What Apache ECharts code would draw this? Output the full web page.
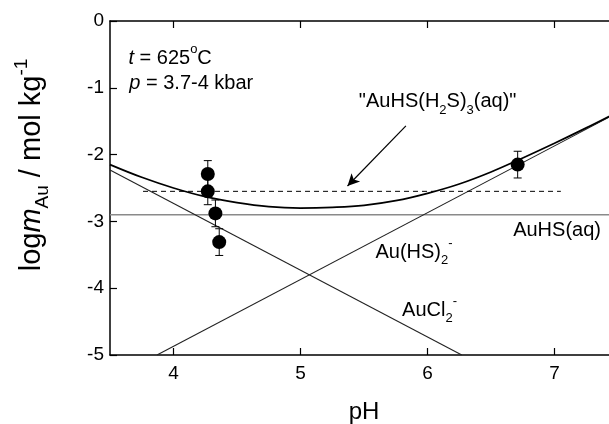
<!DOCTYPE html>
<html>
<head>
<meta charset="utf-8">
<script src="https://cdn.jsdelivr.net/npm/echarts@6/dist/echarts.min.js"></script>
<style>html,body{margin:0;padding:0;background:#fff}#c{width:609px;height:424px}</style>
</head>
<body>
<div id="c"></div>
<script>
// ---- data ----
var xTicks = [4, 5, 6, 7];
var curvePH = [3.5, 3.75, 4.0, 4.25, 4.5, 4.75, 5.0, 5.25, 5.5, 5.75, 6.0, 6.25, 6.5, 6.75, 7.0, 7.25, 7.5];
var curveLogM = [-2.15, -2.34, -2.50, -2.63, -2.72, -2.78, -2.80, -2.79, -2.76, -2.69, -2.58, -2.44, -2.26, -2.05, -1.83, -1.60, -1.36];
var auclPH = [3.5, 6.27];
var auclLogM = [-2.23, -5.0];
var auhs2PH = [3.87, 7.5];
var auhs2LogM = [-5.0, -1.37];
var auhsPH = [3.5, 7.5];
var auhsLogM = [-2.9, -2.9];
var dashPH = [3.76, 7.05];
var dashLogM = [-2.55, -2.55];
var ptPH = [4.27, 4.27, 4.33, 4.36, 6.71];
var ptLogM = [-2.29, -2.55, -2.88, -3.31, -2.15];
var ptErr = [0.2, 0.2, 0.2, 0.2, 0.2];

function pairs(xs, ys) { return xs.map(function (x, i) { return [x, ys[i]]; }); }

var FF = 'Liberation Sans, Arial, sans-serif';
var FS = 20;
var rich = {
  n: {fontSize: FS, lineHeight: 30, verticalAlign: 'middle', fontFamily: FF, color: '#000'},
  i: {fontSize: FS, lineHeight: 30, verticalAlign: 'middle', fontStyle: 'italic', fontFamily: FF, color: '#000'},
  sub: {fontSize: 13, lineHeight: 12, verticalAlign: 'bottom', fontFamily: FF, color: '#000'},
  sup: {fontSize: 13, lineHeight: 12, verticalAlign: 'top', fontFamily: FF, color: '#000'}
};

function textSeries(pt, fmt, align) {
  return {
    type: 'scatter', data: [pt], symbolSize: 0, silent: true, z: 5,
    itemStyle: {opacity: 1},
    label: {show: true, position: 'inside', align: align || 'left', verticalAlign: 'middle', formatter: fmt,
      color: '#000', textBorderWidth: 0, rich: rich}
  };
}

var chart = echarts.init(document.getElementById('c'), null, {renderer: 'canvas'});
var axisLineStyle = {color: '#000', width: 1.5};
chart.setOption({
  animation: false,
  backgroundColor: '#fff',
  grid: {left: 110, top: 21, right: -9, bottom: 69, containLabel: false, outerBoundsMode: 'none'},
  xAxis: [{
    type: 'value', min: 3.5, max: 7.5, position: 'bottom',
    axisLine: {show: true, onZero: false, lineStyle: axisLineStyle},
    axisTick: {show: true, inside: true, length: 7, customValues: xTicks, lineStyle: {color: '#000', width: 1.2}},
    axisLabel: {show: true, customValues: xTicks, margin: 9, fontSize: 19, color: '#000', fontFamily: FF},
    splitLine: {show: false},
    name: 'pH', nameLocation: 'middle', nameGap: 45,
    nameTextStyle: {fontSize: 24, color: '#000', fontFamily: FF}
  }, {
    type: 'value', min: 3.5, max: 7.5, position: 'top',
    axisLine: {show: true, onZero: false, lineStyle: axisLineStyle},
    axisTick: {show: true, inside: true, length: 7, customValues: xTicks, lineStyle: {color: '#000', width: 1.2}},
    axisLabel: {show: false},
    splitLine: {show: false}
  }],
  yAxis: [{
    type: 'value', min: -5, max: 0, interval: 1,
    axisLine: {show: true, onZero: false, lineStyle: axisLineStyle},
    axisTick: {show: true, inside: true, length: 7, lineStyle: {color: '#000', width: 1.2}},
    axisLabel: {margin: 6, fontSize: 19, color: '#000', fontFamily: FF},
    splitLine: {show: false},
    name: '{n|log}{i|m}{sub|Au}{n| / mol kg}{sup|-1}',
    nameLocation: 'middle', nameGap: 58, nameRotate: 90,
    nameTextStyle: {
      padding: [0, 0, 0, 46],
      rich: {
        n: {fontSize: 29, lineHeight: 40, verticalAlign: 'middle', fontFamily: FF, color: '#000'},
        i: {fontSize: 29, lineHeight: 40, verticalAlign: 'middle', fontStyle: 'italic', fontFamily: FF, color: '#000'},
        sub: {fontSize: 19, lineHeight: 16, verticalAlign: 'bottom', fontFamily: FF, color: '#000'},
        sup: {fontSize: 19, lineHeight: 16, verticalAlign: 'top', fontFamily: FF, color: '#000'}
      }
    }
  }],
  series: [
    {type: 'line', data: pairs(auhsPH, auhsLogM), symbol: 'none', lineStyle: {color: '#8a8a8a', width: 1.5}, z: 2},
    {type: 'line', data: pairs(auclPH, auclLogM), symbol: 'none', lineStyle: {color: '#222', width: 1.1}, z: 2},
    {type: 'line', data: pairs(auhs2PH, auhs2LogM), symbol: 'none', lineStyle: {color: '#222', width: 1.1}, z: 2},
    {type: 'line', data: pairs(dashPH, dashLogM), symbol: 'none', lineStyle: {color: '#000', width: 1, type: [5, 4]}, z: 2,
      markLine: {
        silent: true, symbol: ['none', 'arrow'], symbolSize: [9, 12],
        label: {show: false},
        lineStyle: {color: '#000', width: 1.2, type: 'solid'},
        data: [[{coord: [5.83, -1.57]}, {coord: [5.37, -2.47]}]]
      }
    },
    {type: 'line', data: pairs(curvePH, curveLogM), symbol: 'none', smooth: 0.4, lineStyle: {color: '#000', width: 1.7}, z: 3},
    {
      type: 'custom', z: 4,
      data: ptPH.map(function (x, i) { return [x, ptLogM[i], ptErr[i]]; }),
      renderItem: function (params, api) {
        var x = api.value(0), y = api.value(1), e = api.value(2);
        var top = api.coord([x, y + e]), bot = api.coord([x, y - e]);
        var w = 4;
        return {
          type: 'group',
          children: [
            {type: 'line', shape: {x1: top[0], y1: top[1], x2: bot[0], y2: bot[1]}, style: {stroke: '#000', lineWidth: 1}},
            {type: 'line', shape: {x1: top[0] - w, y1: top[1], x2: top[0] + w, y2: top[1]}, style: {stroke: '#000', lineWidth: 1}},
            {type: 'line', shape: {x1: bot[0] - w, y1: bot[1], x2: bot[0] + w, y2: bot[1]}, style: {stroke: '#000', lineWidth: 1}}
          ]
        };
      }
    },
    {type: 'scatter', data: pairs(ptPH, ptLogM), symbol: 'circle', symbolSize: 14, itemStyle: {color: '#000', opacity: 1}, z: 6},
    textSeries([3.645, -0.555], '{i|t}{n| = 625}{sup|o}{n|C}'),
    textSeries([3.652, -0.93], '{i|p}{n| = 3.7-4 kbar}'),
    textSeries([6.08, -1.21], '{n|"AuHS(H}{sub|2}{n|S)}{sub|3}{n|(aq)"}', 'center'),
    textSeries([7.02, -3.14], '{n|AuHS(aq)}', 'center'),
    textSeries([5.59, -3.46], '{n|Au(HS)}{sub|2}{sup|-}'),
    textSeries([5.80, -4.33], '{n|AuCl}{sub|2}{sup|-}')
  ]
});
</script>
</body>
</html>
